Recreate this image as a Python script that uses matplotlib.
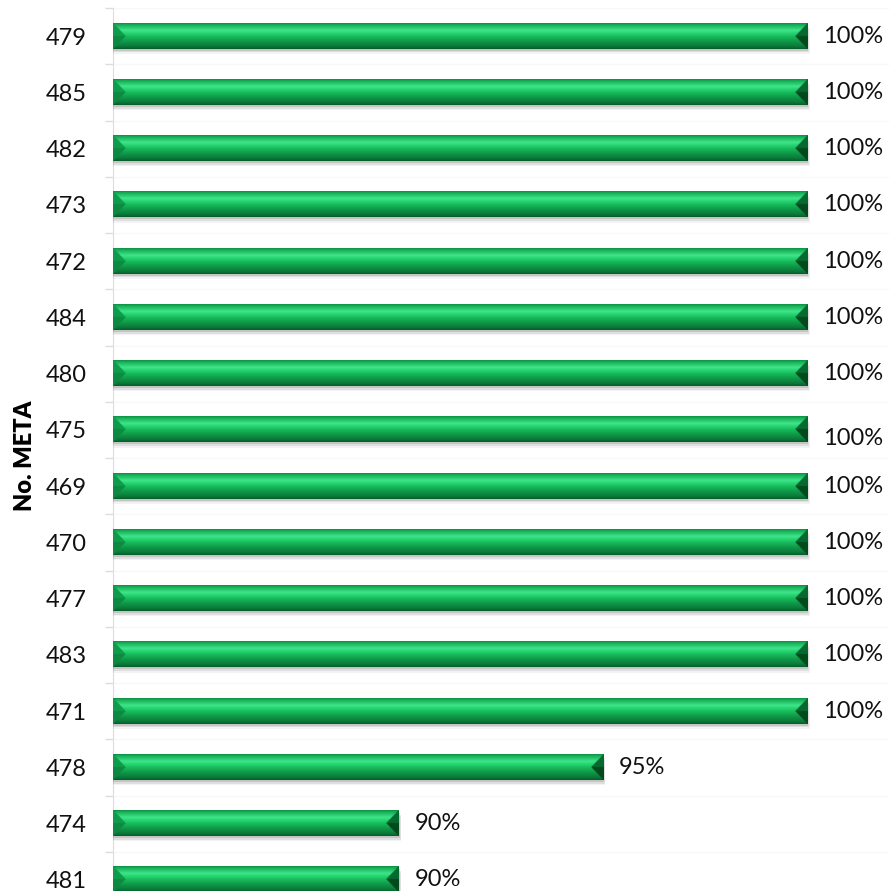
import numpy as np
import matplotlib
matplotlib.use("Agg")
import matplotlib.pyplot as plt
from matplotlib import patheffects as pe
from matplotlib.colors import to_rgb

categories = ["479", "485", "482", "473", "472", "484", "480", "475",
              "469", "470", "477", "483", "471", "478", "474", "481"]
values = [1.00, 1.00, 1.00, 1.00, 1.00, 1.00, 1.00, 1.00,
          1.00, 1.00, 1.00, 1.00, 1.00, 0.95, 0.90, 0.90]
value_labels = ["100%"] * 13 + ["95%", "90%", "90%"]
y_title = "No. META"

plt.rcParams['font.family'] = ['Lato', 'DejaVu Sans']

W, H = 889, 891
fig = plt.figure(figsize=(W / 100, H / 100), dpi=100)
ax = fig.add_axes([113 / W, (H - 908) / H, 776 / W, 900 / H])

n = len(categories)
ypos = np.arange(n)
bar_h = 0.445
XMIN, XMAX = 0.83, 1.02

shadow = [
    pe.SimplePatchShadow(offset=(0.8, -1.5), shadow_rgbFace='#808080', alpha=0.30),
    pe.SimplePatchShadow(offset=(1.2, -2.6), shadow_rgbFace='#909090', alpha=0.20),
    pe.SimplePatchShadow(offset=(1.6, -3.8), shadow_rgbFace='#a0a0a0', alpha=0.12),
    pe.Normal(),
]
bars = ax.barh(ypos, values, height=bar_h, color='#12b055', zorder=3)
for b in bars:
    b.set_path_effects(shadow)

# vertical colour profile of the bevelled bar
stops = [(0.00, '#0c8a40'), (0.06, '#14ab52'), (0.28, '#3ee58a'), (0.40, '#27d270'),
         (0.55, '#14b556'), (0.76, '#0e8e44'), (0.90, '#0a7838'), (1.00, '#075a28')]
st = np.array([s[0] for s in stops])
sc = np.array([to_rgb(s[1]) for s in stops])

ax.set_xlim(XMIN, XMAX)
ax.set_ylim(n - 0.5, -0.5)

fig.canvas.draw()
px_per_unit = ax.transData.transform((1, 0))[0] - ax.transData.transform((0, 0))[0]
ny = 50
t = (np.arange(ny) + 0.5) / ny
prof = np.stack([np.interp(t, st, sc[:, k]) for k in range(3)], axis=1)
bevel_px = 13.0

for yi, v in zip(ypos, values):
    wpx = int(round((v - XMIN) * px_per_unit))
    nx = wpx * 2
    xs = (np.arange(nx) + 0.5) / 2.0  # pixels from left end
    img = np.repeat(prof[:, None, :], nx, axis=1).copy()
    tri = bevel_px * (1 - np.abs(2 * t - 1))  # triangle depth per row
    dl = xs[None, :]
    dr = (wpx - xs)[None, :]
    left_mask = dl < tri[:, None]
    right_mask = dr < tri[:, None]
    upper = (t < 0.5)[:, None]
    left_face = np.where(upper, np.array(to_rgb('#0f9c4a')), np.array(to_rgb('#0c8a42')))
    right_face = np.where(upper, np.array(to_rgb('#066a30')), np.array(to_rgb('#034a1c')))
    img = np.where(left_mask[..., None], np.broadcast_to(left_face[:, None, :], img.shape), img)
    img = np.where(right_mask[..., None], np.broadcast_to(right_face[:, None, :], img.shape), img)
    ax.imshow(img, extent=(XMIN, v, yi + bar_h / 2, yi - bar_h / 2),
              origin='upper', aspect='auto', interpolation='bilinear', zorder=4)

ax.set_xlim(XMIN, XMAX)
ax.set_ylim(n - 0.5, -0.5)

# data labels
for i, (v, lab) in enumerate(zip(values, value_labels)):
    dy = -6 if categories[i] == "475" else 0
    ax.annotate(lab, xy=(v, i), xytext=(11.5, dy), textcoords='offset points',
                ha='left', va='center', fontsize=17, color='#111111', zorder=5)

# faint horizontal separators
for b in np.arange(n + 1) - 0.5:
    ax.axhline(b, color='#f8f8f8', lw=1, zorder=1)

ax.set_yticks(ypos)
ax.set_yticklabels(categories, fontsize=17, color='#111111')
ax.set_yticks(np.arange(n + 1) - 0.5, minor=True)
ax.tick_params(axis='y', which='major', length=0, pad=19)
ax.tick_params(axis='y', which='minor', length=6, color='#dcdcdc', width=1)
ax.set_xticks([])
for s in ['top', 'right', 'bottom']:
    ax.spines[s].set_visible(False)
ax.spines['left'].set_color('#dcdcdc')
ax.set_facecolor('none')

fig.text(25 / W, 1 - 456 / H, y_title, rotation=90, ha='center', va='center',
         fontsize=17, fontweight='heavy', color='#000000')

fig.savefig('out.png', dpi=100)
